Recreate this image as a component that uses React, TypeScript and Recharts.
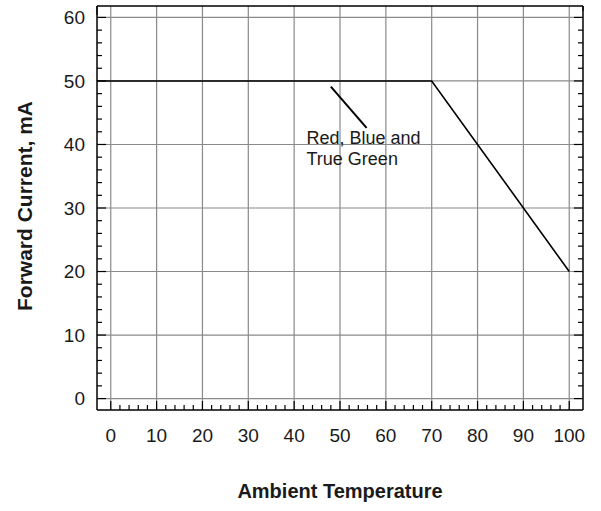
import React from 'react';
import { LineChart, Line, XAxis, YAxis, CartesianGrid, ReferenceLine, ReferenceDot } from 'recharts';

// derating curve
const temperature = [-3, 70, 100];
const forwardCurrent = [50, 50, 20];

const xMajor = [0, 10, 20, 30, 40, 50, 60, 70, 80, 90, 100];
const yMajor = [0, 10, 20, 30, 40, 50, 60];
const xDomain = [-3, 103];
const yDomain = [-1.8, 61.8];

const calloutLine = [
  { x: 48, y: 49.1 },
  { x: 55.8, y: 42.6 },
];
const calloutAt = { x: 42.7, y: 40.1 };
const calloutText = ['Red, Blue and', 'True Green'];

const xTitle = 'Ambient Temperature';
const yTitle = 'Forward Current, mA';

const data = temperature.map((t, i) => ({ temp: t, current: forwardCurrent[i] }));

// minor ticks every 2 units between major ticks
const withMinor = (major: number[]) => {
  const out: number[] = [];
  for (let i = 0; i < major.length; i++) {
    out.push(major[i]);
    if (i < major.length - 1) {
      const step = (major[i + 1] - major[i]) / 5;
      for (let k = 1; k < 5; k++) out.push(major[i] + step * k);
    }
  }
  return out;
};
const xTicks = withMinor(xMajor);
const yTicks = withMinor(yMajor);

const FONT = '"Liberation Sans", Arial, sans-serif';
const isMajor = (v: number) => Math.abs(v % 10) < 1e-6;
const MAJOR = 9;
const MINOR = 5;
const TICK_W = 1.2;

const makeTick = (side: 'bottom' | 'top' | 'left' | 'right') => (props: any) => {
  const { x, y, payload } = props;
  const v = payload.value as number;
  const len = isMajor(v) ? MAJOR : MINOR;
  let line;
  if (side === 'bottom') line = <line x1={x} y1={y} x2={x} y2={y - len} stroke="#000" strokeWidth={TICK_W} />;
  else if (side === 'top') line = <line x1={x} y1={y} x2={x} y2={y + len} stroke="#000" strokeWidth={TICK_W} />;
  else if (side === 'left') line = <line x1={x} y1={y} x2={x + len} y2={y} stroke="#000" strokeWidth={TICK_W} />;
  else line = <line x1={x} y1={y} x2={x - len} y2={y} stroke="#000" strokeWidth={TICK_W} />;

  let label = null;
  if (isMajor(v) && side === 'bottom') {
    label = (
      <text x={x} y={y + 31.7} textAnchor="middle" fontSize={19} fontFamily={FONT} fill="#1a1a1a">
        {Math.round(v)}
      </text>
    );
  } else if (isMajor(v) && side === 'left') {
    label = (
      <text x={x - 12} y={y + 6.6} textAnchor="end" fontSize={19} fontFamily={FONT} fill="#1a1a1a">
        {Math.round(v)}
      </text>
    );
  }
  return (
    <g>
      {line}
      {label}
    </g>
  );
};

const XTitle = (props: any) => {
  const vb = props.viewBox;
  return (
    <text x={vb.x + vb.width / 2} y={vb.y + vb.height - 13} textAnchor="middle" fontSize={20} fontWeight="bold" fontFamily={FONT} fill="#1a1a1a">
      {xTitle}
    </text>
  );
};

const YTitle = (props: any) => {
  const vb = props.viewBox;
  const cx = 24;
  const cy = vb.y + vb.height / 2 - 2;
  return (
    <text x={cx} y={cy} transform={`rotate(-90 ${cx} ${cy})`} textAnchor="middle" dominantBaseline="central" fontSize={21} fontWeight="bold" fontFamily={FONT} fill="#1a1a1a">
      {yTitle}
    </text>
  );
};

const Callout = (props: any) => {
  const vb = props.viewBox;
  const x = vb.x + vb.width / 2;
  const y = vb.y + vb.height / 2;
  return (
    <text x={x} y={y} fontSize={18} fontFamily={FONT} fill="#1a1a1a">
      {calloutText.map((t, i) => (
        <tspan key={i} x={x} dy={i === 0 ? 0 : 21}>
          {t}
        </tspan>
      ))}
    </text>
  );
};

const axisLine = { stroke: '#000', strokeWidth: 1.5 };

export default function App() {
  return (
    <div style={{ position: 'absolute', left: 0, top: 0, width: 601, height: 511, background: '#fff' }}>
      <LineChart width={601} height={511} data={data} margin={{ top: 0, right: 0, bottom: 0, left: 0 }}>
        <CartesianGrid xAxisId="bottom" yAxisId="left" stroke="#8a8a8a" strokeWidth={1.2} verticalValues={xMajor} horizontalValues={yMajor} />
        <XAxis
          xAxisId="bottom"
          dataKey="temp"
          type="number"
          domain={xDomain}
          allowDataOverflow
          ticks={xTicks}
          interval={0}
          height={101}
          tickSize={0}
          tickMargin={0}
          tickLine={false}
          axisLine={axisLine}
          tick={makeTick('bottom')}
          label={{ content: XTitle }}
        />
        <XAxis
          xAxisId="top"
          orientation="top"
          type="number"
          domain={xDomain}
          allowDataOverflow
          ticks={xTicks}
          interval={0}
          height={6}
          tickSize={0}
          tickMargin={0}
          tickLine={false}
          axisLine={axisLine}
          tick={makeTick('top')}
        />
        <YAxis
          yAxisId="left"
          type="number"
          domain={yDomain}
          allowDataOverflow
          ticks={yTicks}
          interval={0}
          width={97}
          tickSize={0}
          tickMargin={0}
          tickLine={false}
          axisLine={axisLine}
          tick={makeTick('left')}
          label={{ content: YTitle }}
        />
        <YAxis
          yAxisId="right"
          orientation="right"
          type="number"
          domain={yDomain}
          allowDataOverflow
          ticks={yTicks}
          interval={0}
          width={18}
          tickSize={0}
          tickMargin={0}
          tickLine={false}
          axisLine={axisLine}
          tick={makeTick('right')}
        />
        <Line
          xAxisId="bottom"
          yAxisId="left"
          dataKey="current"
          type="linear"
          stroke="#000"
          strokeWidth={1.6}
          dot={false}
          isAnimationActive={false}
        />
        <ReferenceLine xAxisId="bottom" yAxisId="left" segment={calloutLine} stroke="#000" strokeWidth={2} />
        <ReferenceDot
          xAxisId="bottom"
          yAxisId="left"
          x={calloutAt.x}
          y={calloutAt.y}
          r={1}
          fill="none"
          stroke="none"
          label={{ content: Callout }}
        />
      </LineChart>
    </div>
  );
}
